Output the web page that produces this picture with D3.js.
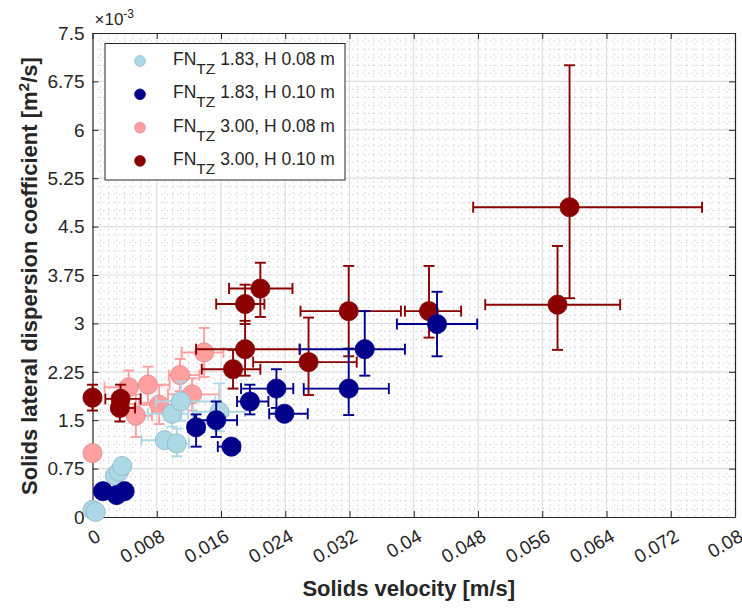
<!DOCTYPE html>
<html>
<head>
<meta charset="utf-8">
<script src="https://cdn.jsdelivr.net/npm/d3@7/dist/d3.min.js"></script>
<style>
  html, body { margin: 0; padding: 0; background: #ffffff; }
  svg { display: block; font-family: "Liberation Sans", Arial, Helvetica, sans-serif; }
</style>
</head>
<body>
<svg id="chart" width="742" height="608"></svg>
<script>
// Axis ticks
const xTickValues = [0, 0.008, 0.016, 0.024, 0.032, 0.04, 0.048, 0.056, 0.064, 0.072, 0.08];
const xTickLabels = ["0", "0.008", "0.016", "0.024", "0.032", "0.04", "0.048", "0.056", "0.064", "0.072", "0.08"];
const yTickValues = [0, 0.75, 1.5, 2.25, 3, 3.75, 4.5, 5.25, 6, 6.75, 7.5];
const yTickLabels = ["0", "0.75", "1.5", "2.25", "3", "3.75", "4.5", "5.25", "6", "6.75", "7.5"];

// Series 1: FN_TZ 1.83, H 0.08 m  (velocity in m/s, dispersion in 1e-3 m^2/s)
const lbVel    = [0.0000, 0.0004, 0.0028, 0.0033, 0.0037, 0.0090, 0.0105, 0.0099, 0.0110, 0.0158];
const lbDisp   = [0.11,   0.08,   0.64,   0.70,   0.79,   1.19,   1.14,   1.60,   1.79,   1.63];
const lbVelLo  = [0.0002, 0.0002, 0.0003, 0.0003, 0.0003, 0.0029, 0.0015, 0.0030, 0.0031, 0.0033];
const lbVelHi  = [0.0002, 0.0002, 0.0003, 0.0003, 0.0003, 0.0020, 0.0015, 0.0020, 0.0043, 0.0032];
const lbDispLo = [0.02,   0.02,   0.05,   0.05,   0.05,   0.10,   0.20,   0.20,   0.30,   0.30];
const lbDispHi = [0.02,   0.02,   0.05,   0.05,   0.05,   0.10,   0.23,   0.20,   0.31,   0.44];

// Series 2: FN_TZ 1.83, H 0.10 m
const dbVel    = [0.0013, 0.0030, 0.0040, 0.0129, 0.0154, 0.0173, 0.0196, 0.0229, 0.0239, 0.0319, 0.0339, 0.0429];
const dbDisp   = [0.40,   0.34,   0.40,   1.39,   1.50,   1.09,   1.79,   1.99,   1.60,   1.99,   2.60,   2.99];
const dbVelLo  = [0.0002, 0.0002, 0.0002, 0.0010, 0.0027, 0.0017, 0.0016, 0.0044, 0.0019, 0.0056, 0.0081, 0.0050];
const dbVelHi  = [0.0002, 0.0002, 0.0002, 0.0010, 0.0026, 0.0010, 0.0023, 0.0021, 0.0029, 0.0050, 0.0050, 0.0050];
const dbDispLo = [0.03,   0.03,   0.03,   0.30,   0.26,   0.05,   0.20,   0.30,   0.05,   0.41,   0.41,   0.50];
const dbDispHi = [0.03,   0.03,   0.03,   0.20,   0.29,   0.05,   0.26,   0.30,   0.05,   0.62,   0.59,   0.50];

// Series 3: FN_TZ 3.00, H 0.08 m
const pkVel    = [0.0000, 0.0045, 0.0069, 0.0109, 0.0139, 0.0124, 0.0083, 0.0054];
const pkDisp   = [0.99,   2.01,   2.05,   2.20,   2.55,   1.90,   1.74,   1.57];
const pkVelLo  = [0.0002, 0.0030, 0.0020, 0.0014, 0.0028, 0.0030, 0.0025, 0.0020];
const pkVelHi  = [0.0002, 0.0020, 0.0027, 0.0024, 0.0024, 0.0034, 0.0025, 0.0020];
const pkDispLo = [0.03,   0.26,   0.28,   0.25,   0.38,   0.25,   0.30,   0.33];
const pkDispHi = [0.03,   0.26,   0.28,   0.25,   0.38,   0.25,   0.30,   0.33];

// Series 4: FN_TZ 3.00, H 0.10 m
const drVel    = [0.0000, 0.0035, 0.0034, 0.0175, 0.0190, 0.0190, 0.0209, 0.0269, 0.0319, 0.0419, 0.0579, 0.0594];
const drDisp   = [1.85,   1.83,   1.69,   2.29,   2.60,   3.30,   3.54,   2.40,   3.19,   3.19,   3.29,   4.80];
const drVelLo  = [0.0002, 0.0019, 0.0008, 0.0039, 0.0061, 0.0036, 0.0039, 0.0069, 0.0060, 0.0030, 0.0090, 0.0120];
const drVelHi  = [0.0002, 0.0025, 0.0019, 0.0034, 0.0068, 0.0024, 0.0040, 0.0060, 0.0065, 0.0040, 0.0078, 0.0165];
const drDispLo = [0.20,   0.20,   0.21,   0.30,   0.41,   0.31,   0.44,   0.51,   0.70,   0.41,   0.70,   1.41];
const drDispHi = [0.20,   0.22,   0.20,   0.30,   0.44,   0.30,   0.40,   0.69,   0.70,   0.70,   0.91,   2.20];

const legendFN = ["1.83", "1.83", "3.00", "3.00"];
const legendH  = ["0.08", "0.10", "0.08", "0.10"];
const seriesColors = ["#add8e6", "#00008b", "#ff9f9f", "#8b0000"];
const seriesEdges  = ["#8fb6c4", "#00008b", "#d98a8a", "#8b0000"];

function zipSeries(vel, disp, vLo, vHi, dLo, dHi) {
  return vel.map((v, i) => ({ v, d: disp[i], vLo: vLo[i], vHi: vHi[i], dLo: dLo[i], dHi: dHi[i] }));
}
const series = [
  zipSeries(lbVel, lbDisp, lbVelLo, lbVelHi, lbDispLo, lbDispHi),
  zipSeries(dbVel, dbDisp, dbVelLo, dbVelHi, dbDispLo, dbDispHi),
  zipSeries(pkVel, pkDisp, pkVelLo, pkVelHi, pkDispLo, pkDispHi),
  zipSeries(drVel, drDisp, drVelLo, drVelHi, drDispLo, drDispHi)
];
// stacking order of the drawn series (bottom first)
const drawOrder = [2, 3, 0, 1];

const svg = d3.select("#chart");
const W = 742, H = 608;
const plot = { left: 92.5, right: 735, top: 33, bottom: 517 };
const textColor = "#262626";

const x = d3.scaleLinear().domain([0, 0.08]).range([plot.left, plot.right]);
const y = d3.scaleLinear().domain([0, 7.5]).range([plot.bottom, plot.top]);

svg.append("rect").attr("width", W).attr("height", H).attr("fill", "#ffffff");

// minor grid (dotted)
const gMinor = svg.append("g");
const xMinor = d3.range(1, 80).filter(i => i % 8 !== 0).map(i => i * 0.001);
const yMinor = d3.range(1, 60).filter(i => i % 6 !== 0).map(i => i * 0.125);
gMinor.selectAll("line.vx").data(xMinor).join("line")
  .attr("x1", d => x(d)).attr("x2", d => x(d))
  .attr("y1", plot.top).attr("y2", plot.bottom)
  .attr("stroke", "#c4c4c4").attr("stroke-width", 0.9)
  .attr("stroke-dasharray", "1.3,4");
gMinor.selectAll("line.hy").data(yMinor).join("line")
  .attr("y1", d => y(d)).attr("y2", d => y(d))
  .attr("x1", plot.left).attr("x2", plot.right)
  .attr("stroke", "#c4c4c4").attr("stroke-width", 0.9)
  .attr("stroke-dasharray", "1.3,4");

// major grid
const gMajor = svg.append("g");
gMajor.selectAll("line.gx").data(xTickValues.slice(1, -1)).join("line")
  .attr("x1", d => x(d)).attr("x2", d => x(d))
  .attr("y1", plot.top).attr("y2", plot.bottom)
  .attr("stroke", "#dedede").attr("stroke-width", 1.2);
gMajor.selectAll("line.gy").data(yTickValues.slice(1, -1)).join("line")
  .attr("y1", d => y(d)).attr("y2", d => y(d))
  .attr("x1", plot.left).attr("x2", plot.right)
  .attr("stroke", "#dedede").attr("stroke-width", 1.2);

// axes: bottom/left with labels, top/right mirrored; ticks point inward
const tickLen = 6;
const axisBottom = d3.axisBottom(x).tickValues(xTickValues).tickFormat("").tickSizeInner(-tickLen).tickSizeOuter(0);
const axisTop = d3.axisTop(x).tickValues(xTickValues).tickFormat("").tickSizeInner(-tickLen).tickSizeOuter(0);
const axisLeft = d3.axisLeft(y).tickValues(yTickValues).tickFormat("").tickSizeInner(-tickLen).tickSizeOuter(0);
const axisRight = d3.axisRight(y).tickValues(yTickValues).tickFormat("").tickSizeInner(-tickLen).tickSizeOuter(0);

function styleAxis(g) {
  g.selectAll("path.domain").attr("stroke", textColor).attr("stroke-width", 1.2);
  g.selectAll(".tick line").attr("stroke", textColor).attr("stroke-width", 1);
}
svg.append("g").attr("transform", `translate(0,${plot.bottom})`).call(axisBottom).call(styleAxis);
svg.append("g").attr("transform", `translate(0,${plot.top})`).call(axisTop).call(styleAxis);
svg.append("g").attr("transform", `translate(${plot.left},0)`).call(axisLeft).call(styleAxis);
svg.append("g").attr("transform", `translate(${plot.right},0)`).call(axisRight).call(styleAxis);

// y tick labels
svg.append("g").selectAll("text").data(yTickValues).join("text")
  .attr("x", plot.left - 8).attr("y", d => y(d)).attr("dy", "0.36em")
  .attr("text-anchor", "end").attr("font-size", 19).attr("fill", textColor)
  .text((d, i) => yTickLabels[i]);

// x tick labels, rotated
svg.append("g").selectAll("text").data(xTickValues).join("text")
  .attr("transform", d => `translate(${x(d) + 6},${plot.bottom + 17}) rotate(-30)`)
  .attr("dy", "0.36em")
  .attr("text-anchor", "end").attr("font-size", 19).attr("fill", textColor)
  .text((d, i) => xTickLabels[i]);

// exponent label
const expo = svg.append("text").attr("x", plot.left + 2).attr("y", 25)
  .attr("font-size", 17).attr("fill", textColor);
expo.append("tspan").text("\u00d710");
expo.append("tspan").attr("dy", -7).attr("font-size", 12).text("-3");

// axis titles
svg.append("text")
  .attr("x", (plot.left + plot.right) / 2 - 5).attr("y", 596)
  .attr("text-anchor", "middle").attr("font-size", 22).attr("font-weight", "bold")
  .attr("fill", textColor).text("Solids velocity [m/s]");

const yTitle = svg.append("text")
  .attr("transform", `translate(37,${(plot.top + plot.bottom) / 2 + 1}) rotate(-90)`)
  .attr("text-anchor", "middle").attr("font-size", 22).attr("font-weight", "bold")
  .attr("fill", textColor);
yTitle.append("tspan").text("Solids lateral dispersion coefficient [m");
yTitle.append("tspan").attr("dy", -8).attr("font-size", 15.5).text("2");
yTitle.append("tspan").attr("dy", 8).text("/s]");

// error bars + markers, one series at a time
const cap = 5.5;
const markerR = 9.6;
drawOrder.forEach(si => {
  const data = series[si];
  const col = seriesColors[si];
  const g = svg.append("g");
  const eb = g.append("g").attr("stroke", col).attr("stroke-width", 1.9).attr("fill", "none");
  data.forEach(p => {
    const cx = x(p.v), cy = y(p.d);
    const y0 = y(p.d - p.dLo), y1 = y(p.d + p.dHi);
    const x0 = x(p.v - p.vLo), x1 = x(p.v + p.vHi);
    eb.append("line").attr("x1", cx).attr("x2", cx).attr("y1", y0).attr("y2", y1);
    eb.append("line").attr("x1", cx - cap).attr("x2", cx + cap).attr("y1", y0).attr("y2", y0);
    eb.append("line").attr("x1", cx - cap).attr("x2", cx + cap).attr("y1", y1).attr("y2", y1);
    eb.append("line").attr("x1", x0).attr("x2", x1).attr("y1", cy).attr("y2", cy);
    eb.append("line").attr("x1", x0).attr("x2", x0).attr("y1", cy - cap).attr("y2", cy + cap);
    eb.append("line").attr("x1", x1).attr("x2", x1).attr("y1", cy - cap).attr("y2", cy + cap);
  });
  g.selectAll("circle").data(data).join("circle")
    .attr("cx", d => x(d.v)).attr("cy", d => y(d.d)).attr("r", markerR)
    .attr("fill", col).attr("stroke", seriesEdges[si]).attr("stroke-width", 0.8);
});

// legend
const lg = svg.append("g");
lg.append("rect").attr("x", 105).attr("y", 43.5).attr("width", 240).attr("height", 136.5)
  .attr("fill", "#ffffff").attr("stroke", textColor).attr("stroke-width", 1);
legendFN.forEach((fn, i) => {
  const base = 65 + i * 33.3;
  lg.append("circle").attr("cx", 140).attr("cy", base - 4).attr("r", 5.4)
    .attr("fill", seriesColors[i]).attr("stroke", seriesEdges[i]).attr("stroke-width", 0.7);
  const t = lg.append("text").attr("x", 173).attr("y", base)
    .attr("font-size", 17.5).attr("fill", textColor);
  t.append("tspan").text("FN");
  t.append("tspan").attr("dy", 9).attr("font-size", 15.5).text("TZ");
  t.append("tspan").attr("dy", -9).text(` ${fn}, H ${legendH[i]} m`);
});
</script>
</body>
</html>
